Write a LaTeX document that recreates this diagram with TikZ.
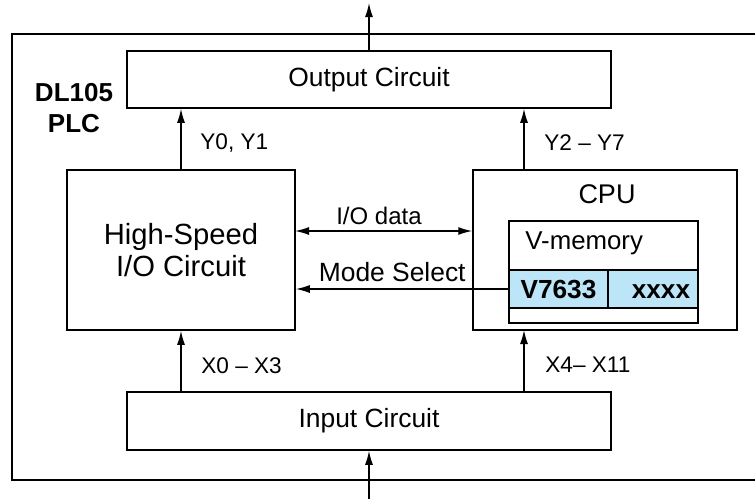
\documentclass[tikz,border=0pt]{standalone}
\usepackage{fontspec}
\setmainfont{Liberation Sans}
\usetikzlibrary{arrows.meta}

\definecolor{memblue}{RGB}{189,229,248}

\tikzset{
  box/.style={draw, line width=0.75pt, inner sep=0pt},
  cell/.style={box, fill=memblue, minimum height=19pt, text height=9.5pt, text depth=0pt,
               font=\bfseries\fontsize{13.1}{15}\selectfont},
  flow/.style={line width=0.7pt, -{Latex[length=7pt,width=4pt]}},
  both/.style={line width=0.7pt, {Latex[length=7pt,width=4pt]}-{Latex[length=7pt,width=4pt]}},
  lbl/.style={inner sep=0pt, font=\fontsize{11.3}{13}\selectfont},
  big/.style={font=\fontsize{13.2}{16}\selectfont},
}

\begin{document}
\begin{tikzpicture}[x=0.5pt, y=-0.5pt]
  \useasboundingbox (0,0) rectangle (755,499);

  % PLC frame, open on the right side
  \draw[line width=0.8pt] (755,34) -- (12,34) -- (12,480) -- (755,480);
  \node[inner sep=0pt, align=center, font=\bfseries\fontsize{13}{15.5}\selectfont] (plc) at (74,108) {DL105\\PLC};

  % Main blocks
  \node[box, big, minimum width=242pt, minimum height=28.5pt] (out) at (369,79.5) {Output Circuit};
  \node[box, big, minimum width=242pt, minimum height=29pt] (inp) at (369,421) {Input Circuit};
  \node[box, align=center, font=\fontsize{14.6}{16}\selectfont,
        minimum width=114pt, minimum height=80pt] (hs) at (181,250) {High-Speed\\I/O Circuit};
  \node[box, minimum width=132pt, minimum height=80pt] (cpu) at (605,250) {};
  \node[inner sep=0pt, font=\fontsize{13.5}{16}\selectfont] (cputext) at (607,194) {CPU};

  % V-memory
  \node[box, minimum width=94.5pt, minimum height=51pt] (vmem) at (603.5,272) {};
  \node[inner sep=0pt, anchor=west, font=\fontsize{12.9}{15}\selectfont] (vtext) at (525,243) {V-memory};
  \node[cell, minimum width=49.5pt] (reg) at (558.5,289) {V7633};
  \node[cell, minimum width=45pt] (val) at (653,289) {\hspace{8pt}xxxx};

  % Connection points
  \coordinate (y27) at (524,170);
  \coordinate (x411) at (524,330);
  \coordinate (iotop) at (369,3);
  \coordinate (iobot) at (369,499);
  \coordinate (iodata) at (295,231);

  % Arrows
  \draw[flow] (out.north) -- (iotop);
  \draw[flow] (iobot) -- (inp.south);
  \draw[flow] (hs.north) -- (hs.north |- out.south);
  \draw[flow] (y27) -- (y27 |- out.south);
  \draw[flow] (hs.south |- inp.north) -- (hs.south);
  \draw[flow] (x411 |- inp.north) -- (x411);
  \draw[both] (iodata) -- (iodata -| cpu.west);
  \draw[flow] (reg.west) -- (reg.west -| hs.east);

  % Signal labels
  \node[lbl, anchor=west] (ylo) at (200,143) {Y0, Y1};
  \node[lbl, anchor=west] (yhi) at (544,143) {Y2 -- Y7};
  \node[lbl, anchor=west] (xlo) at (201,366) {X0 -- X3};
  \node[lbl, anchor=west] (xhi) at (545,365) {X4-- X11};
  \node[inner sep=0pt, font=\fontsize{12}{14}\selectfont] (iolbl) at (379,216) {I/O data};
  \node[inner sep=0pt, anchor=east, big] (mode) at (466,272) {Mode Select};
\end{tikzpicture}
\end{document}
